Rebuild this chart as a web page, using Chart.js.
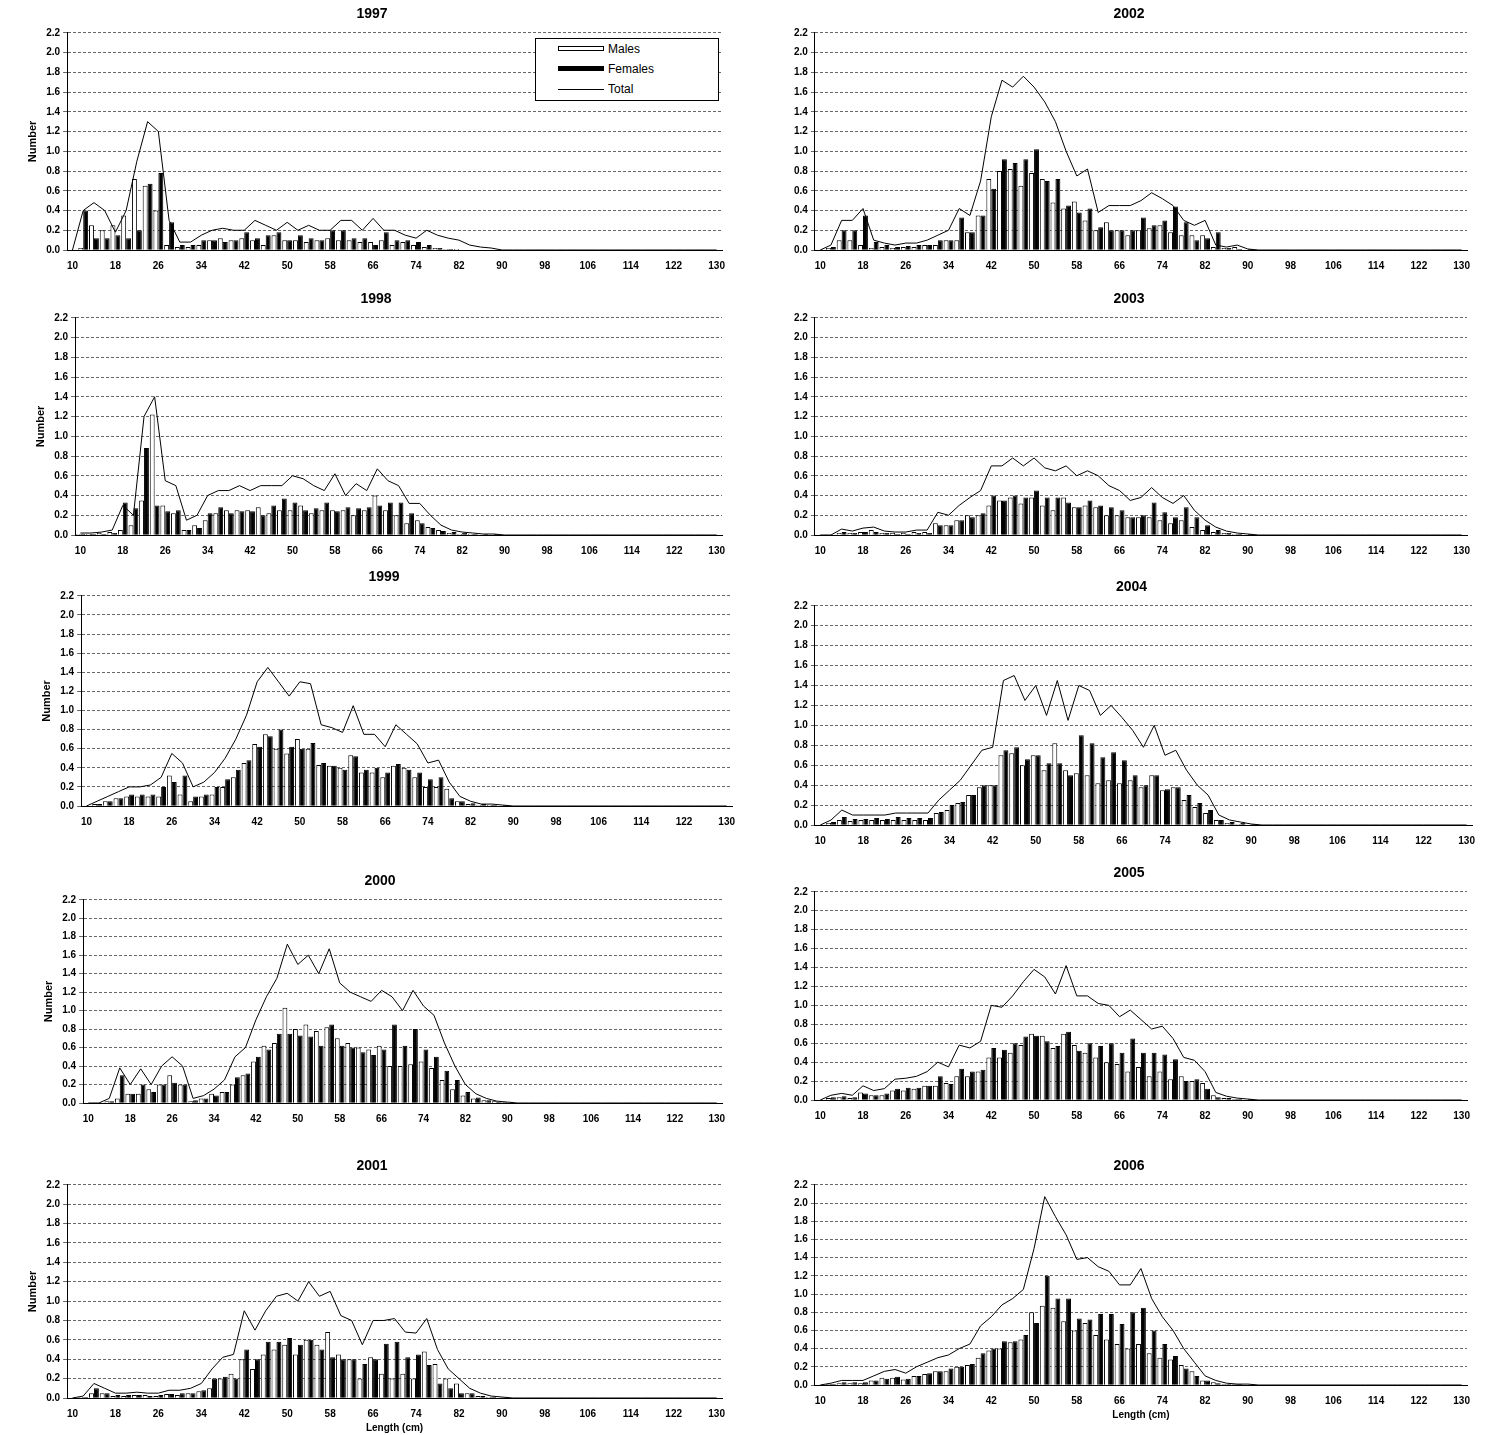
<!DOCTYPE html>
<html>
<head>
<meta charset="utf-8">
<script src="https://cdn.jsdelivr.net/npm/chart.js@4.4.0/dist/chart.umd.min.js"></script>
<style>
  body { margin: 0; background: #fff; font-family: Arial, "Liberation Sans", sans-serif; }
  .panel { position: absolute; }
  .legend { position: absolute; left: 535px; top: 38px; width: 182px; height: 61px; border: 1px solid #000;
            background: #fff; font-size: 12px; font-family: Arial, "Liberation Sans", sans-serif; }
  .legend div { height: 20px; line-height: 20px; position: relative; padding-left: 72px; }
  .legend span { position: absolute; left: 22px; top: 7px; width: 46px; height: 5px; box-sizing: border-box; }
</style>
</head>
<body>
<script>
// lengths 10..130 cm, step 2
const lengths = [];
for (let l = 10; l <= 130; l += 2) lengths.push(l);
const yTicks = [0, 0.2, 0.4, 0.6, 0.8, 1.0, 1.2, 1.4, 1.6, 1.8, 2.0, 2.2];

// values for 10..90 cm, zero beyond
const males1997 = [0,0.02,0.25,0.2,0.25,0.35,0.72,0.65,0.4,0.05,0.03,0.03,0.05,0.1,0.12,0.1,0.12,0.1,0.05,0.15,0.1,0.1,0.08,0.1,0.12,0.1,0.1,0.08,0.08,0.1,0.05,0.08,0.05,0.03,0.02,0.01,0.01,0,0,0,0];
const females1997 = [0,0.4,0.12,0.12,0.15,0.12,0.2,0.67,0.78,0.28,0.05,0.05,0.1,0.1,0.08,0.1,0.18,0.12,0.15,0.18,0.1,0.15,0.12,0.1,0.2,0.2,0.12,0.12,0.05,0.18,0.1,0.1,0.08,0.05,0.02,0.01,0,0,0,0,0];
const total1997 = [0,0.4,0.48,0.4,0.18,0.4,0.9,1.3,1.2,0.3,0.08,0.08,0.15,0.2,0.22,0.2,0.2,0.3,0.25,0.2,0.28,0.2,0.25,0.2,0.2,0.3,0.3,0.2,0.32,0.2,0.2,0.15,0.12,0.2,0.15,0.12,0.1,0.05,0.03,0.02,0];

const males1998 = [0.01,0.01,0.02,0.03,0.05,0.1,0.35,1.22,0.3,0.22,0.05,0.1,0.15,0.22,0.25,0.25,0.25,0.28,0.22,0.25,0.25,0.3,0.22,0.25,0.25,0.25,0.2,0.25,0.4,0.25,0.2,0.12,0.15,0.08,0.05,0.02,0.01,0.01,0,0,0];
const females1998 = [0.01,0.01,0.01,0.02,0.33,0.27,0.88,0.3,0.24,0.25,0.05,0.07,0.22,0.28,0.22,0.24,0.24,0.2,0.3,0.37,0.33,0.25,0.27,0.33,0.24,0.28,0.27,0.28,0.3,0.33,0.33,0.22,0.12,0.07,0.04,0.03,0.02,0.01,0.01,0.01,0];
const total1998 = [0.02,0.02,0.03,0.05,0.3,0.2,1.2,1.4,0.55,0.5,0.15,0.2,0.4,0.45,0.45,0.5,0.45,0.5,0.5,0.5,0.6,0.57,0.5,0.45,0.62,0.4,0.52,0.45,0.67,0.55,0.5,0.32,0.32,0.2,0.1,0.05,0.03,0.02,0.01,0.01,0];

const males1999 = [0,0.02,0.05,0.08,0.1,0.1,0.1,0.1,0.32,0.12,0.05,0.1,0.12,0.2,0.3,0.45,0.65,0.75,0.6,0.55,0.7,0.6,0.43,0.42,0.4,0.53,0.35,0.35,0.3,0.42,0.4,0.3,0.2,0.2,0.18,0.05,0.02,0.01,0.01,0,0];
const females1999 = [0,0.02,0.05,0.08,0.12,0.12,0.12,0.2,0.25,0.32,0.1,0.12,0.2,0.28,0.38,0.48,0.62,0.73,0.8,0.62,0.6,0.66,0.45,0.42,0.38,0.52,0.38,0.4,0.35,0.44,0.38,0.35,0.28,0.3,0.08,0.05,0.03,0.02,0.01,0.01,0];
const total1999 = [0,0.05,0.1,0.15,0.2,0.2,0.22,0.3,0.55,0.45,0.2,0.25,0.35,0.5,0.7,0.95,1.3,1.45,1.3,1.15,1.3,1.28,0.85,0.82,0.77,1.05,0.75,0.75,0.62,0.85,0.75,0.65,0.45,0.48,0.25,0.1,0.05,0.02,0.02,0.01,0];

const males2000 = [0,0,0.02,0.05,0.1,0.1,0.15,0.2,0.3,0.2,0.02,0.05,0.1,0.12,0.2,0.3,0.45,0.62,0.65,1.03,0.8,0.85,0.78,0.82,0.7,0.65,0.6,0.58,0.62,0.4,0.4,0.42,0.45,0.38,0.25,0.15,0.08,0.05,0.03,0.02,0.01];
const females2000 = [0,0,0.02,0.3,0.1,0.2,0.12,0.2,0.22,0.2,0.03,0.05,0.08,0.12,0.28,0.32,0.5,0.58,0.75,0.75,0.73,0.72,0.62,0.85,0.62,0.6,0.55,0.52,0.58,0.85,0.62,0.8,0.58,0.5,0.35,0.25,0.12,0.06,0.03,0.01,0];
const total2000 = [0,0,0.05,0.38,0.2,0.37,0.2,0.4,0.5,0.4,0.05,0.08,0.15,0.25,0.5,0.6,0.9,1.15,1.35,1.72,1.5,1.6,1.4,1.67,1.3,1.2,1.15,1.1,1.22,1.15,1.0,1.22,1.05,0.95,0.65,0.4,0.2,0.1,0.05,0.02,0.01];

const males2001 = [0,0.01,0.05,0.05,0.02,0.02,0.03,0.03,0.02,0.04,0.03,0.05,0.07,0.1,0.2,0.25,0.4,0.3,0.45,0.5,0.55,0.45,0.6,0.55,0.68,0.45,0.4,0.2,0.42,0.25,0.2,0.25,0.2,0.48,0.35,0.2,0.15,0.05,0.02,0.01,0];
const females2001 = [0,0.01,0.1,0.05,0.03,0.03,0.03,0.02,0.03,0.04,0.05,0.05,0.08,0.2,0.22,0.2,0.5,0.4,0.58,0.58,0.62,0.55,0.6,0.5,0.42,0.4,0.4,0.35,0.4,0.56,0.58,0.42,0.45,0.34,0.15,0.1,0.05,0.05,0.02,0.01,0];
const total2001 = [0,0.02,0.15,0.1,0.05,0.05,0.06,0.05,0.05,0.08,0.08,0.1,0.15,0.3,0.42,0.45,0.9,0.7,0.9,1.05,1.08,1.0,1.2,1.05,1.1,0.85,0.8,0.55,0.8,0.8,0.82,0.68,0.67,0.82,0.5,0.3,0.2,0.1,0.05,0.02,0.01];

const males2002 = [0,0.02,0.1,0.1,0.05,0.02,0.03,0.02,0.03,0.03,0.05,0.05,0.1,0.1,0.18,0.35,0.72,0.8,0.82,0.65,0.78,0.72,0.48,0.42,0.49,0.3,0.2,0.28,0.2,0.15,0.2,0.22,0.25,0.18,0.15,0.15,0.15,0.03,0.02,0.03,0];
const females2002 = [0,0.03,0.2,0.2,0.35,0.08,0.05,0.03,0.04,0.05,0.05,0.1,0.1,0.33,0.18,0.35,0.62,0.92,0.88,0.92,1.02,0.7,0.72,0.45,0.38,0.42,0.23,0.2,0.2,0.2,0.33,0.25,0.3,0.44,0.28,0.1,0.12,0.18,0.02,0.01,0.01];
const total2002 = [0,0.05,0.3,0.3,0.42,0.1,0.07,0.05,0.07,0.07,0.1,0.15,0.2,0.42,0.35,0.7,1.35,1.72,1.65,1.76,1.65,1.5,1.3,1.0,0.75,0.82,0.38,0.45,0.45,0.45,0.5,0.58,0.52,0.45,0.3,0.25,0.3,0.05,0.03,0.05,0.01];

const males2003 = [0,0,0.02,0.02,0.03,0.05,0.02,0.02,0.02,0.03,0.03,0.12,0.1,0.15,0.2,0.2,0.3,0.35,0.38,0.32,0.38,0.3,0.25,0.38,0.28,0.3,0.28,0.2,0.2,0.18,0.18,0.18,0.15,0.12,0.15,0.08,0.05,0.03,0.02,0.01,0];
const females2003 = [0,0,0.03,0.02,0.03,0.03,0.02,0.01,0.01,0.02,0.02,0.1,0.1,0.15,0.18,0.22,0.4,0.35,0.4,0.38,0.45,0.38,0.38,0.33,0.28,0.35,0.3,0.28,0.25,0.18,0.2,0.33,0.23,0.18,0.28,0.18,0.1,0.05,0.02,0.01,0.01];
const total2003 = [0,0,0.06,0.04,0.07,0.08,0.04,0.03,0.03,0.05,0.05,0.23,0.2,0.3,0.38,0.45,0.7,0.7,0.78,0.7,0.78,0.68,0.65,0.7,0.6,0.65,0.6,0.5,0.45,0.35,0.38,0.48,0.38,0.32,0.4,0.25,0.15,0.08,0.04,0.02,0.01];

const males2004 = [0,0.02,0.05,0.04,0.05,0.05,0.05,0.05,0.05,0.05,0.05,0.12,0.15,0.22,0.3,0.38,0.4,0.7,0.72,0.6,0.7,0.55,0.82,0.55,0.52,0.5,0.42,0.45,0.42,0.45,0.38,0.5,0.35,0.38,0.25,0.18,0.12,0.05,0.02,0.01,0];
const females2004 = [0,0.03,0.08,0.06,0.06,0.07,0.06,0.08,0.07,0.07,0.07,0.13,0.2,0.23,0.3,0.4,0.4,0.75,0.78,0.66,0.7,0.62,0.62,0.5,0.9,0.82,0.68,0.73,0.65,0.5,0.4,0.5,0.36,0.38,0.3,0.22,0.15,0.05,0.03,0.02,0.01];
const total2004 = [0,0.05,0.15,0.1,0.1,0.1,0.1,0.12,0.12,0.12,0.12,0.25,0.35,0.45,0.6,0.75,0.78,1.45,1.5,1.25,1.4,1.1,1.45,1.05,1.4,1.35,1.1,1.2,1.08,0.95,0.78,1.0,0.7,0.75,0.55,0.4,0.3,0.1,0.05,0.03,0.01];

const males2005 = [0,0.02,0.03,0.02,0.08,0.05,0.05,0.1,0.1,0.12,0.15,0.15,0.18,0.25,0.25,0.3,0.45,0.45,0.5,0.58,0.7,0.68,0.55,0.7,0.58,0.5,0.45,0.4,0.38,0.3,0.35,0.25,0.3,0.22,0.25,0.2,0.18,0.05,0.02,0.01,0];
const females2005 = [0,0.03,0.04,0.03,0.07,0.05,0.07,0.12,0.13,0.13,0.15,0.25,0.17,0.33,0.3,0.32,0.55,0.53,0.6,0.67,0.68,0.62,0.57,0.72,0.52,0.6,0.57,0.6,0.5,0.65,0.5,0.5,0.48,0.43,0.2,0.22,0.12,0.03,0.02,0.01,0.01];
const total2005 = [0,0.05,0.07,0.05,0.15,0.1,0.12,0.22,0.23,0.25,0.3,0.4,0.35,0.58,0.55,0.62,1.0,0.98,1.1,1.25,1.38,1.3,1.12,1.42,1.1,1.1,1.02,1.0,0.88,0.95,0.85,0.75,0.78,0.65,0.45,0.42,0.3,0.08,0.04,0.02,0.01];

const males2006 = [0,0.01,0.02,0.02,0.02,0.05,0.08,0.08,0.06,0.1,0.12,0.15,0.15,0.2,0.22,0.3,0.38,0.4,0.47,0.5,0.8,0.87,0.85,0.7,0.6,0.68,0.55,0.5,0.45,0.4,0.45,0.35,0.3,0.28,0.22,0.15,0.05,0.03,0.01,0.01,0];
const females2006 = [0,0.01,0.03,0.03,0.03,0.05,0.07,0.09,0.07,0.1,0.13,0.15,0.18,0.2,0.23,0.35,0.4,0.48,0.48,0.55,0.68,1.2,0.95,0.95,0.73,0.72,0.78,0.78,0.67,0.8,0.85,0.6,0.45,0.32,0.18,0.1,0.05,0.02,0.01,0.01,0];
const total2006 = [0,0.02,0.05,0.05,0.05,0.1,0.15,0.17,0.13,0.2,0.25,0.3,0.33,0.4,0.45,0.65,0.75,0.88,0.95,1.05,1.5,2.07,1.85,1.65,1.38,1.4,1.3,1.25,1.1,1.1,1.28,0.95,0.75,0.6,0.4,0.25,0.1,0.05,0.02,0.01,0.01];

function pad(a) { // lengths above 90 cm are zero
  const out = a.slice();
  while (out.length < lengths.length) out.push(0);
  return out;
}

const panels = [
  { year: '1997', m: males1997, f: females1997, t: total1997, left: 0, top: 2, w: 730, h: 272, padL: 22, yTitle: true },
  { year: '1998', m: males1998, f: females1998, t: total1998, left: 0, top: 287, w: 730, h: 272, padL: 30, yTitle: true },
  { year: '1999', m: males1999, f: females1999, t: total1999, left: 0, top: 565, w: 740, h: 265, padL: 36, yTitle: true },
  { year: '2000', m: males2000, f: females2000, t: total2000, left: 0, top: 869, w: 730, h: 258, padL: 38, yTitle: true },
  { year: '2001', m: males2001, f: females2001, t: total2001, left: 0, top: 1154, w: 730, h: 280, padL: 22, yTitle: true, xTitle: true },
  { year: '2002', m: males2002, f: females2002, t: total2002, left: 775, top: 2, w: 700, h: 272, padL: 16 },
  { year: '2003', m: males2003, f: females2003, t: total2003, left: 775, top: 287, w: 700, h: 272, padL: 16 },
  { year: '2004', m: males2004, f: females2004, t: total2004, left: 775, top: 575, w: 705, h: 274, padL: 16 },
  { year: '2005', m: males2005, f: females2005, t: total2005, left: 775, top: 861, w: 700, h: 263, padL: 16 },
  { year: '2006', m: males2006, f: females2006, t: total2006, left: 775, top: 1154, w: 700, h: 267, padL: 16, xTitle: true }
];

const bold10 = { family: 'Arial, "Liberation Sans", sans-serif', size: 10, weight: 'bold' };

panels.forEach(p => {
  const div = document.createElement('div');
  div.className = 'panel';
  div.style.left = p.left + 'px';
  div.style.top = p.top + 'px';
  const cv = document.createElement('canvas');
  cv.width = p.w; cv.height = p.h;
  cv.style.width = p.w + 'px'; cv.style.height = p.h + 'px';
  div.appendChild(cv);
  document.body.appendChild(div);

  new Chart(cv.getContext('2d'), {
    data: {
      labels: lengths,
      datasets: [
        { type: 'line', label: 'Total', data: pad(p.t), borderColor: '#000', borderWidth: 1,
          pointRadius: 0, tension: 0, fill: false, order: 0 },
        { type: 'bar', label: 'Males', data: pad(p.m), backgroundColor: '#fff', borderColor: '#000',
          borderWidth: 1, barPercentage: 1, categoryPercentage: 0.92, order: 1 },
        { type: 'bar', label: 'Females', data: pad(p.f), backgroundColor: '#000', borderColor: '#000',
          borderWidth: 1, barPercentage: 1, categoryPercentage: 0.92, order: 1 }
      ]
    },
    options: {
      responsive: false,
      animation: false,
      layout: { padding: { right: 8, left: p.padL } },
      plugins: {
        legend: { display: false },
        tooltip: { enabled: false },
        title: { display: true, text: p.year, color: '#000', padding: { top: 4, bottom: 10 },
                 font: { family: 'Arial, "Liberation Sans", sans-serif', size: 14, weight: 'bold' } }
      },
      scales: {
        x: {
          grid: { display: false },
          border: { color: '#000' },
          ticks: { color: '#000', font: bold10, autoSkip: false, maxRotation: 0, padding: 2,
                   callback: (v, i) => (i % 4 === 0 ? lengths[i] : '') },
          title: { display: !!p.xTitle, text: 'Length (cm)', color: '#000', font: bold10, padding: 0 }
        },
        y: {
          min: 0, max: 2.2,
          afterBuildTicks: ax => { ax.ticks = yTicks.map(v => ({ value: v })); },
          grid: { color: '#000', lineWidth: 0.6, tickLength: 4 },
          border: { color: '#000', dash: [3, 2] },
          ticks: { color: '#000', font: bold10, callback: v => v.toFixed(1) },
          title: { display: !!p.yTitle, text: 'Number', color: '#000',
                   font: { family: 'Arial, "Liberation Sans", sans-serif', size: 11, weight: 'bold' }, padding: 4 }
        }
      }
    }
  });
});

// legend for 1997 panel
const lg = document.createElement('div');
lg.className = 'legend';
lg.innerHTML = '<div><span style="border:1px solid #000;background:#fff"></span>Males</div>' +
               '<div><span style="background:#000"></span>Females</div>' +
               '<div><span style="height:1px;top:10px;background:#000"></span>Total</div>';
document.body.appendChild(lg);
</script>
</body>
</html>
